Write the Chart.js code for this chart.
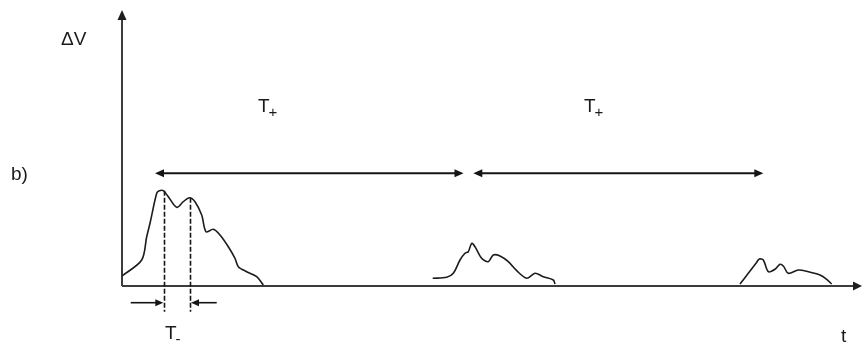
<!DOCTYPE html>
<html>
<head>
<meta charset="utf-8">
<script src="https://cdn.jsdelivr.net/npm/chart.js@4"></script>
<style>
  html, body { margin: 0; padding: 0; background: #fff; }
  #wrap { width: 866px; height: 345px; }
</style>
</head>
<body>
<div id="wrap"><canvas id="c" width="866" height="345"></canvas></div>
<script>
// Pulse 1: voltage difference during the first (long) discharge
const pulse1T = [0, 19.7, 24.7, 28, 34.7, 37.3, 41.3, 46.3, 54.7, 61.3, 67.3, 73, 79.7, 84, 91.3, 98, 106.3, 113, 116.3, 124.7, 134.7, 141.3];
const pulse1V = [10, 26, 49.3, 62.7, 92.7, 95.3, 95.3, 89.3, 78.7, 84.3, 88.3, 84.3, 71, 54.3, 56.7, 51, 39.3, 27.7, 19.3, 14.3, 9.3, 1];

// Pulse 2
const pulse2T = [310.7, 324.7, 331.3, 338, 343, 346.3, 349.7, 353, 359.7, 366.3, 371.3, 378, 386.3, 394.7, 404.7, 413, 421.3, 431.3, 433];
const pulse2V = [7.7, 8.7, 12.7, 26, 32.7, 34.3, 42.7, 39.3, 27.7, 24.3, 31, 30, 24.3, 15.3, 7.7, 12.7, 9.3, 6, 2];

// Pulse 3
const pulse3T = [618, 626.3, 634, 637.3, 641.3, 646.3, 653, 658, 661.3, 666.3, 676.3, 686.3, 698, 704.7, 709.7];
const pulse3V = [2, 12.7, 22.7, 27, 26, 14.3, 16.7, 21.7, 20, 12.7, 16, 14.3, 11, 6.7, 2];

// Period markers T+ (start, end) and the level they are drawn at
const periodStarts = [33, 351.3];
const periodEnds = [341.5, 641.3];
const periodLevel = 112.7;

// Pulse width T- : the two instants marked by dashed lines, their curve values
const widthMarks = [42.3, 68];
const widthMarkTops = [95.3, 88.3];
const widthMarkBottom = -25.7;
const widthArrowLevel = -16.7;
const widthArrowOuter = [8.7, 94.7];

const axisMaxT = 740;
const axisMaxV = 276;

function toPoints(ts, vs) {
  return ts.map((t, i) => ({ x: t, y: vs[i] }));
}

function arrowHead(ctx, x, y, dir, len, half) {
  // dir: 'left' | 'right' | 'up'
  ctx.beginPath();
  if (dir === 'right') {
    ctx.moveTo(x, y); ctx.lineTo(x - len, y - half); ctx.lineTo(x - len, y + half);
  } else if (dir === 'left') {
    ctx.moveTo(x, y); ctx.lineTo(x + len, y - half); ctx.lineTo(x + len, y + half);
  } else {
    ctx.moveTo(x, y); ctx.lineTo(x - half, y + len); ctx.lineTo(x + half, y + len);
  }
  ctx.closePath();
  ctx.fill();
}

const diagramPlugin = {
  id: 'diagram',
  beforeDatasetsDraw(chart) {
    const ctx = chart.ctx;
    const xs = chart.scales.x, ys = chart.scales.y;
    const x0 = xs.getPixelForValue(0), y0 = ys.getPixelForValue(0);
    const xEnd = xs.getPixelForValue(axisMaxT), yEnd = ys.getPixelForValue(axisMaxV);
    ctx.save();
    // axes
    ctx.strokeStyle = '#3c3c3c';
    ctx.fillStyle = '#1e1e1e';
    ctx.lineWidth = 2;
    ctx.beginPath();
    ctx.moveTo(x0, y0); ctx.lineTo(xEnd - 6, y0);
    ctx.moveTo(x0, y0); ctx.lineTo(x0, yEnd + 6);
    ctx.stroke();
    arrowHead(ctx, xEnd, y0, 'right', 9, 4.5);
    arrowHead(ctx, x0, yEnd, 'up', 10, 4.5);
    ctx.restore();
  },
  afterDatasetsDraw(chart) {
    const ctx = chart.ctx;
    const xs = chart.scales.x, ys = chart.scales.y;
    ctx.save();
    ctx.strokeStyle = '#151515';
    ctx.fillStyle = '#151515';

    // T+ double arrows
    ctx.lineWidth = 2;
    const py = ys.getPixelForValue(periodLevel);
    periodStarts.forEach((s, i) => {
      const a = xs.getPixelForValue(s), b = xs.getPixelForValue(periodEnds[i]);
      ctx.beginPath();
      ctx.moveTo(a + 6, py); ctx.lineTo(b - 6, py);
      ctx.stroke();
      arrowHead(ctx, a, py, 'left', 9, 4);
      arrowHead(ctx, b, py, 'right', 9, 4);
    });

    // T- dashed markers
    ctx.lineWidth = 1.6;
    ctx.setLineDash([5, 2]);
    widthMarks.forEach((m, i) => {
      const x = Math.round(xs.getPixelForValue(m)) + 0.5;
      ctx.beginPath();
      ctx.moveTo(x, ys.getPixelForValue(widthMarkTops[i]));
      ctx.lineTo(x, ys.getPixelForValue(widthMarkBottom));
      ctx.stroke();
    });
    ctx.setLineDash([]);

    // T- inward arrows
    ctx.lineWidth = 1.6;
    const ay = ys.getPixelForValue(widthArrowLevel);
    widthMarks.forEach((m, i) => {
      const tip = xs.getPixelForValue(m) + (i === 0 ? -1 : 1);
      const outer = xs.getPixelForValue(widthArrowOuter[i]);
      const dir = i === 0 ? 'right' : 'left';
      ctx.beginPath();
      ctx.moveTo(outer, ay);
      ctx.lineTo(tip + (i === 0 ? -6 : 6), ay);
      ctx.stroke();
      arrowHead(ctx, tip, ay, dir, 8, 3.5);
    });

    // labels
    ctx.fillStyle = '#1a1a1a';
    ctx.textBaseline = 'alphabetic';
    ctx.textAlign = 'left';
    ctx.font = '19px "Liberation Sans", Arial, sans-serif';
    ctx.fillText('\u0394V', 61, 45);
    ctx.fillText('b)', 11, 180);
    ctx.fillText('t', 841, 342);

    const subLabel = (x, y, main, sub) => {
      ctx.font = '19px "Liberation Sans", Arial, sans-serif';
      ctx.fillText(main, x, y);
      const w = ctx.measureText(main).width;
      ctx.font = '15px "Liberation Sans", Arial, sans-serif';
      ctx.fillText(sub, x + w - 1, y + 5);
    };
    subLabel(258, 112, 'T', '+');
    subLabel(584, 112, 'T', '+');
    subLabel(165, 339, 'T', '-');

    ctx.restore();
  }
};

const curveStyle = {
  showLine: true,
  pointRadius: 0,
  borderColor: '#1c1c1c',
  borderWidth: 1.6,
  tension: 0.3,
  fill: false,
  clip: false
};

new Chart(document.getElementById('c'), {
  type: 'scatter',
  data: {
    datasets: [
      Object.assign({ label: 'pulse 1', data: toPoints(pulse1T, pulse1V) }, curveStyle),
      Object.assign({ label: 'pulse 2', data: toPoints(pulse2T, pulse2V) }, curveStyle),
      Object.assign({ label: 'pulse 3', data: toPoints(pulse3T, pulse3V) }, curveStyle)
    ]
  },
  options: {
    responsive: false,
    animation: false,
    events: [],
    layout: { padding: { left: 122, right: 4, top: 10, bottom: 59 } },
    plugins: { legend: { display: false }, tooltip: { enabled: false } },
    scales: {
      x: { type: 'linear', min: 0, max: axisMaxT, display: false },
      y: { type: 'linear', min: 0, max: axisMaxV, display: false }
    }
  },
  plugins: [diagramPlugin]
});
</script>
</body>
</html>
